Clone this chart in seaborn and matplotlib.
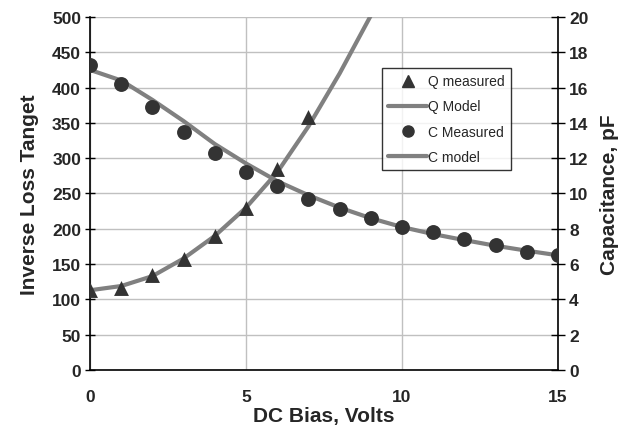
import matplotlib
matplotlib.use("Agg")
import matplotlib.pyplot as plt
import seaborn as sns
import pandas as pd
from matplotlib.lines import Line2D

sns.set_theme(style="white")
plt.rcParams['font.family'] = ['Liberation Sans', 'DejaVu Sans']

bias_meas = [0, 1, 2, 3, 4, 5, 6, 7]
q_meas = [114, 116, 134, 157, 190, 230, 285, 358]
bias_qmodel = [0, 1, 2, 3, 4, 5, 6, 7, 8, 9]
q_model = [113, 119, 133, 158, 190, 230, 280, 345, 420, 502]
bias_c = list(range(16))
c_meas = [17.3, 16.2, 14.9, 13.5, 12.3, 11.2, 10.4, 9.7, 9.1, 8.6, 8.1, 7.8, 7.4, 7.1, 6.7, 6.5]
c_model = [17.0, 16.4, 15.3, 14.1, 12.8, 11.7, 10.7, 9.9, 9.2, 8.6, 8.1, 7.7, 7.36, 7.04, 6.76, 6.5]

dq = pd.DataFrame({"x": bias_meas, "y": q_meas})
dqm = pd.DataFrame({"x": bias_qmodel, "y": q_model})
dc = pd.DataFrame({"x": bias_c, "y": c_meas, "m": c_model})

mark = "#333333"
linec = "#808080"

fig = plt.figure(figsize=(6.21, 4.27), dpi=100)
ax = fig.add_axes([0.145, 0.131, 0.7536, 0.827])
ax2 = ax.twinx()

sns.lineplot(data=dqm, x="x", y="y", ax=ax, color=linec, lw=3, zorder=2)
sns.lineplot(data=dc, x="x", y="m", ax=ax2, color=linec, lw=3, zorder=2)
sns.scatterplot(data=dc, x="x", y="y", ax=ax2, color=mark, marker="o", s=115, edgecolor=mark, linewidth=0, zorder=3)
sns.scatterplot(data=dq, x="x", y="y", ax=ax, color=mark, marker="^", s=115, edgecolor=mark, linewidth=0, zorder=3)

ax.set_xlim(0, 15)
ax.set_ylim(0, 500)
ax2.set_ylim(0, 20)
ax.set_xticks([0, 5, 10, 15])
ax.set_yticks(range(0, 501, 50))
ax2.set_yticks(range(0, 21, 2))
ax.grid(True, color="#c0c0c0", lw=1)
ax.set_axisbelow(True)

for a in (ax, ax2):
    for s in a.spines.values():
        s.set_visible(False)
ax.spines['left'].set_visible(True)
ax.spines['bottom'].set_visible(True)
ax2.spines['right'].set_visible(True)
for s in (ax.spines['left'], ax.spines['bottom'], ax2.spines['right']):
    s.set_color("black"); s.set_linewidth(1.2)

ax.tick_params(axis='both', which='both', direction='out', length=4, color='black',
               labelsize=12.5, width=1)
ax.tick_params(axis='x', direction='inout', length=7, pad=10)
ax.tick_params(axis='y', direction='inout', length=7, pad=3)
ax2.tick_params(axis='y', direction='inout', length=10, labelsize=12.5, width=1, color='black', pad=3)
for lab in ax.get_xticklabels() + ax.get_yticklabels() + ax2.get_yticklabels():
    lab.set_fontweight('bold')

ax.set_xlabel("DC Bias, Volts", fontsize=15, fontweight='bold', labelpad=1.5)
ax.set_ylabel("Inverse Loss Tanget", fontsize=15, fontweight='bold', labelpad=9)
ax2.set_ylabel("Capacitance, pF", fontsize=15, fontweight='bold', labelpad=8)

handles = [
    Line2D([], [], ls='none', marker='^', color=mark, markersize=8),
    Line2D([], [], color=linec, lw=3),
    Line2D([], [], ls='none', marker='o', color=mark, markersize=8),
    Line2D([], [], color=linec, lw=3),
]
labels = ["Q measured", "Q Model", "C Measured", "C model"]
leg = ax2.legend(handles, labels, loc='upper left', bbox_to_anchor=(0.624, 0.855),
                 frameon=True, fancybox=False, edgecolor='black', fontsize=10,
                 handlelength=2.8, handletextpad=0.05, labelspacing=0.8,
                 borderpad=0.45, borderaxespad=0)
leg.get_frame().set_linewidth(1)

fig.savefig("out.png", dpi=100)
